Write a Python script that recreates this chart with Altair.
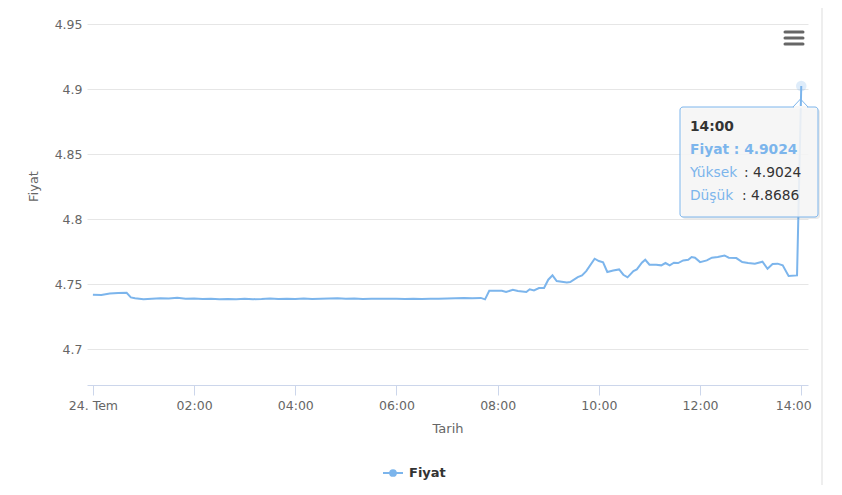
import altair as alt
import pandas as pd

# ---- data -------------------------------------------------------------
times = [
    "00:00", "00:10", "00:20", "00:30", "00:40", "00:45", "00:50", "01:00", "01:10", "01:20",
    "01:30", "01:40", "01:50", "02:00", "02:10", "02:20", "02:30", "02:40", "02:50", "03:00",
    "03:10", "03:20", "03:30", "03:40", "03:50", "04:00", "04:10", "04:20", "04:30", "04:40",
    "04:50", "05:00", "05:10", "05:20", "05:30", "05:40", "05:50", "06:00", "06:10", "06:20",
    "06:30", "06:40", "06:50", "07:00", "07:10", "07:20", "07:30", "07:40", "07:45", "07:50",
    "08:05", "08:10", "08:18", "08:24", "08:34", "08:38", "08:43", "08:49", "08:55", "09:00",
    "09:05", "09:10", "09:22", "09:26", "09:35", "09:40", "09:45", "09:55", "10:00", "10:05",
    "10:10", "10:17", "10:24", "10:29", "10:34", "10:41", "10:45", "10:51", "10:55", "11:00",
    "11:08", "11:14", "11:19", "11:24", "11:29", "11:34", "11:40", "11:46", "11:50", "11:54",
    "12:00", "12:08", "12:14", "12:21", "12:29", "12:34", "12:43", "12:50", "12:57", "13:05",
    "13:14", "13:20", "13:26", "13:32", "13:38", "13:45", "13:55", "14:00",
]
prices = [
    4.7421, 4.7418, 4.7430, 4.7434, 4.7435, 4.7400, 4.7394, 4.7385, 4.7389, 4.7394,
    4.7392, 4.7397, 4.7390, 4.7392, 4.7388, 4.7389, 4.7386, 4.7387, 4.7386, 4.7389,
    4.7386, 4.7388, 4.7392, 4.7388, 4.7389, 4.7387, 4.7391, 4.7388, 4.7390, 4.7391,
    4.7393, 4.7389, 4.7392, 4.7388, 4.7389, 4.7389, 4.7389, 4.7389, 4.7388, 4.7390,
    4.7388, 4.7389, 4.7389, 4.7392, 4.7394, 4.7396, 4.7394, 4.7396, 4.7385, 4.7451,
    4.7451, 4.7441, 4.7459, 4.7449, 4.7441, 4.7462, 4.7454, 4.7472, 4.7472, 4.7536,
    4.7569, 4.7526, 4.7515, 4.7518, 4.7556, 4.7569, 4.7602, 4.7697, 4.7679, 4.7669,
    4.7595, 4.7607, 4.7615, 4.7574, 4.7554, 4.7602, 4.7615, 4.7666, 4.7689, 4.7651,
    4.7651, 4.7646, 4.7664, 4.7646, 4.7666, 4.7664, 4.7684, 4.7689, 4.7710, 4.7705,
    4.7671, 4.7684, 4.7705, 4.7710, 4.7722, 4.7705, 4.7702, 4.7671, 4.7664, 4.7659,
    4.7674, 4.7620, 4.7656, 4.7659, 4.7646, 4.7564, 4.7569, 4.9024,
]
day = "2019-07-24"
y_ticks = [4.7, 4.75, 4.8, 4.85, 4.9, 4.95]
x_tick_hours = [0, 2, 4, 6, 8, 10, 12, 14]

series_name = "Fiyat"
x_title = "Tarih"
tooltip_time = "14:00"
tooltip_main = "Fiyat : 4.9024"
tooltip_labels = ["Yüksek", "Düşük"]
tooltip_values = [": 4.9024", ": 4.8686"]

BLUE = "#7cb5ec"
FONT = "DejaVu Sans"

df = pd.DataFrame({"t": [f"{day}T{t}:00" for t in times], "price": prices})
last = df.tail(1)
one = pd.DataFrame({"a": [0]})

x_scale = alt.Scale(
    domain=[alt.DateTime(year=2019, month=7, date=23, hours=23, minutes=53),
            alt.DateTime(year=2019, month=7, date=24, hours=14, minutes=8)]
)
y_scale = alt.Scale(domain=[4.6727, 4.95], nice=False, zero=False)

x_enc = alt.X(
    "t:T", scale=x_scale, title=x_title,
    axis=alt.Axis(
        values=[alt.DateTime(year=2019, month=7, date=24, hours=h) for h in x_tick_hours],
        labelExpr="hours(datum.value) == 0 ? '24. Tem' : timeFormat(datum.value, '%H:%M')",
        grid=False, domainColor="#ccd6eb", tickColor="#ccd6eb", tickSize=10,
        labelColor="#666666", labelFont=FONT, labelFontSize=12.5, labelPadding=4,
        labelOffset=alt.condition("hours(datum.value) == 14", alt.value(-8), alt.value(0)),
        titleColor="#666666", titleFont=FONT, titleFontSize=13, titleFontWeight="normal",
        titlePadding=11, labelOverlap=False,
    ),
)
y_enc = alt.Y(
    "price:Q", scale=y_scale, title=series_name,
    axis=alt.Axis(
        values=y_ticks, format=".2~f", grid=True, gridColor="#e6e6e6", domain=False,
        ticks=False, labelColor="#666666", labelFont=FONT, labelFontSize=12.5, labelPadding=5,
        titleColor="#666666", titleFont=FONT, titleFontSize=13, titleFontWeight="normal",
        titleY=162, titlePadding=14,
    ),
)

line = alt.Chart(df).mark_line(color=BLUE, strokeWidth=2).encode(x=x_enc, y=y_enc)

halo = alt.Chart(last).mark_circle(color=BLUE, opacity=0.25, size=110).encode(
    x=alt.X("t:T", scale=x_scale), y=alt.Y("price:Q", scale=y_scale)
)

# tooltip box
shadow = alt.Chart(one).mark_rect(fill="#000000", fillOpacity=0.08, cornerRadius=3).encode(
    x=alt.value(595), x2=alt.value(733), y=alt.value(85), y2=alt.value(195)
)
box = alt.Chart(one).mark_rect(
    fill="#f7f7f7", fillOpacity=0.88, stroke=BLUE, strokeWidth=1, cornerRadius=3
).encode(x=alt.value(593), x2=alt.value(731), y=alt.value(83), y2=alt.value(193))
cover = alt.Chart(one).mark_rule(color="#f7f7f7", strokeWidth=2).encode(
    x=alt.value(707), x2=alt.value(720), y=alt.value(83)
)
ptr1 = alt.Chart(one).mark_rule(color=BLUE, strokeWidth=1).encode(
    x=alt.value(706), x2=alt.value(713.5), y=alt.value(83), y2=alt.value(75)
)
ptr2 = alt.Chart(one).mark_rule(color=BLUE, strokeWidth=1).encode(
    x=alt.value(713.5), x2=alt.value(721), y=alt.value(75), y2=alt.value(83)
)

def txt(text, x, y, color, bold=False, size=13.8):
    return alt.Chart(one).mark_text(
        text=text, align="left", baseline="middle", font=FONT, fontSize=size,
        fontWeight="bold" if bold else "normal", color=color,
    ).encode(x=alt.value(x), y=alt.value(y))

tt = [
    txt(tooltip_time, 603, 103, "#333333", bold=True),
    txt(tooltip_main, 603, 126, BLUE, bold=True),
    txt(tooltip_labels[0], 603, 149, BLUE),
    txt(tooltip_values[0], 657, 149, "#333333"),
    txt(tooltip_labels[1], 603, 172, BLUE),
    txt(tooltip_values[1], 655, 172, "#333333"),
]

# legend
leg_line = alt.Chart(one).mark_rule(color=BLUE, strokeWidth=2).encode(
    x=alt.value(296), x2=alt.value(316), y=alt.value(449)
)
leg_dot = alt.Chart(one).mark_circle(color=BLUE, opacity=1, size=60).encode(
    x=alt.value(306), y=alt.value(449)
)
leg_txt = txt(series_name, 322, 449, "#333333", bold=True, size=13)

# menu icon
menu = [
    alt.Chart(one).mark_rule(color="#666666", strokeWidth=3, strokeCap="round").encode(
        x=alt.value(698), x2=alt.value(716), y=alt.value(yy)
    )
    for yy in [8, 14, 20]
]

# right page border
border = alt.Chart(one).mark_rule(color="#dddddd", strokeWidth=1).encode(
    x=alt.value(735), y=alt.value(-16), y2=alt.value(471)
)

chart = alt.layer(
    line, halo, shadow, box, cover, ptr1, ptr2, *tt, leg_line, leg_dot, leg_txt, *menu, border
).properties(
    width=721, height=361,
    padding={"left": 79, "top": 16, "right": 26, "bottom": 100},
    autosize=alt.AutoSizeParams(type="none"),
).configure(background="white").configure_view(stroke=None)

chart.save("out.html", embed_options={"renderer": "svg", "actions": False})
